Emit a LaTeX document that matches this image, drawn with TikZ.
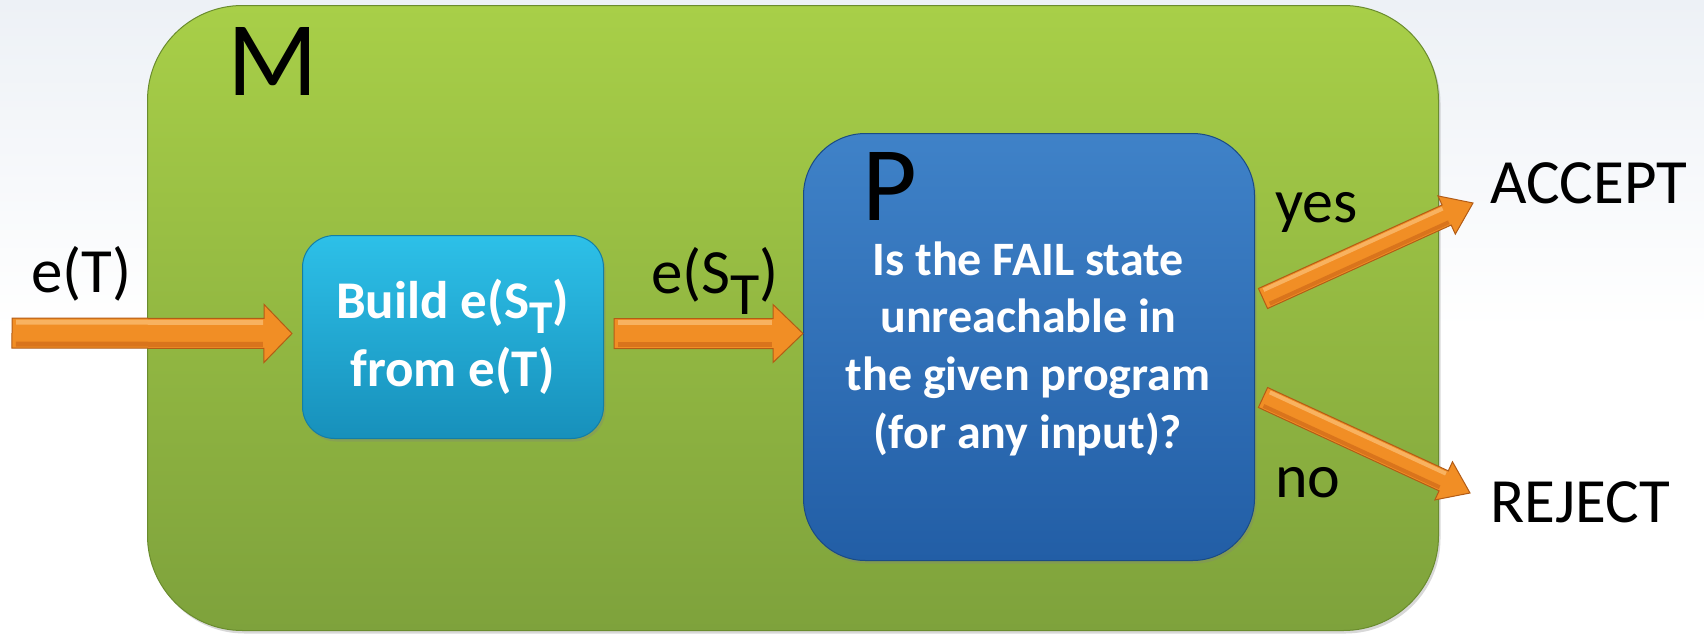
\documentclass[tikz,border=0pt]{standalone}
\usepackage{fontspec}
\setmainfont{Carlito}
\usetikzlibrary{calc,shadows}
\definecolor{bgtop}{HTML}{EDF1F6}
\definecolor{gTop}{HTML}{A8CF48}
\definecolor{gBot}{HTML}{7EA23C}
\definecolor{gEdge}{HTML}{6A8C2E}
\definecolor{cTop}{HTML}{2DC0E8}
\definecolor{cBot}{HTML}{1790BB}
\definecolor{cEdge}{HTML}{137EA6}
\definecolor{bTop}{HTML}{3F82C8}
\definecolor{bBot}{HTML}{225EA6}
\definecolor{bEdge}{HTML}{1A4B85}
\definecolor{aFill}{HTML}{F18E25}
\definecolor{aEdge}{HTML}{B35C16}
\definecolor{aLight}{HTML}{F8B260}
\definecolor{aDark}{HTML}{D9741C}
\tikzset{
  panel/.style={rounded corners=#1, line width=1pt, inner sep=0pt, anchor=north west,
    drop shadow={shadow xshift=2pt, shadow yshift=-3pt, opacity=0.3}},
  lbl/.style={inner sep=0pt, anchor=base west, font=\fontsize{63}{63}\selectfont},
  biglbl/.style={inner sep=0pt, anchor=base west, font=\fontsize{106}{106}\selectfont},
  boxtext/.style={inner sep=0pt, anchor=base, text=white},
  arrowbody/.style={fill=aFill, draw=aEdge, line width=1pt, line join=miter},
  arrowlight/.style={draw=aLight, line cap=butt},
  arrowdark/.style={draw=aDark, line cap=butt}
}
% #1 start, #2 end, #3 half shaft, #4 half head, #5 head length, #6 stripe offset, #7 stripe width
\newcommand\blockarrow[7]{%
  \coordinate (bah) at ($(#2)!#5!(#1)$);
  \coordinate (bas) at ($(#1)!4pt!(#2)$);
  \coordinate (bae) at ($(bah)!1pt!(#1)$);
  \filldraw[arrowbody] ($(#1)!#3!90:(#2)$) -- ($(bah)!#3!90:(#2)$) -- ($(bah)!#4!90:(#2)$)
    -- (#2) -- ($(bah)!#4!-90:(#2)$) -- ($(bah)!#3!-90:(#2)$) -- ($(#1)!#3!-90:(#2)$) -- cycle;
  \draw[arrowlight, line width=#7] ($(bas)!#6!90:(#2)$) -- ($(bae)!#6!90:(#2)$);
  \draw[arrowdark, line width=#7] ($(bas)!#6!-90:(#2)$) -- ($(bae)!#6!-90:(#2)$);
}
\begin{document}
\begin{tikzpicture}[x=1pt,y=-1pt]
\useasboundingbox (0,0) rectangle (1704,635);
\shade[top color=bgtop, bottom color=white] (0,0) rectangle (1704,330);
\fill[white] (0,330) rectangle (1704,635);

% outer machine M
\node[panel=95pt, top color=gTop, bottom color=gBot, draw=gEdge,
      minimum width=1291pt, minimum height=625pt] (Mbox) at (147,5) {};
\node[biglbl] (Mlabel) at (227,95) {M};

% build box
\node[panel=32pt, top color=cTop, bottom color=cBot, draw=cEdge,
      minimum width=301pt, minimum height=203pt] (build) at (302,235) {};
\node[boxtext, font=\bfseries\fontsize{53}{68}\selectfont] (buildtext) at (452.5,318)
  {\setlength{\tabcolsep}{0pt}\begin{tabular}[t]{c}Build e(S\raisebox{-15pt}{\fontsize{47}{47}\selectfont T})\\ from e(T)\end{tabular}};

% program box P
\node[panel=62pt, top color=bTop, bottom color=bBot, draw=bEdge,
      minimum width=451pt, minimum height=427pt] (P) at (803,133) {};
\node[biglbl] (Plabel) at (862,220) {P};
\node[boxtext, font=\bfseries\fontsize{48}{57.7}\selectfont] (ptext) at (1028,275)
  {\setlength{\tabcolsep}{0pt}\begin{tabular}[t]{c}Is the FAIL state\\ unreachable in\\ the given program\\ (for any input)?\end{tabular}};

% labels
\node[lbl] (eT) at (31,292) {e(T)};
\node[lbl] (eST) at (651,293) {e(S\raisebox{-21pt}{\fontsize{60}{60}\selectfont T})};
\node[lbl, font=\fontsize{62}{62}\selectfont] (yes) at (1275,222) {yes};
\node[lbl, font=\fontsize{62}{62}\selectfont] (no) at (1275,497) {no};
\node[lbl] (accept) at (1490,203) {ACCEPT};
\node[lbl] (reject) at (1490,522) {REJECT};

% connectors
\coordinate (inS) at (12,333);
\coordinate (inE) at ($(build.west)+(-10,-3.5)$);
\coordinate (midS) at ($(build.east)+(10,-3.5)$);
\coordinate (midE) at (P.west |- midS);
\coordinate (yesS) at ($(P.east)+(8,-48.5)$);
\coordinate (yesE) at ($(accept.base west)+(-17,0)$);
\coordinate (noS) at ($(P.east)+(8,50.5)$);
\coordinate (noE) at ($(reject.base west)+(-20,-29)$);

\blockarrow{inS}{inE}{15pt}{29pt}{28pt}{11pt}{5pt}
\blockarrow{midS}{midE}{15pt}{29pt}{30pt}{11pt}{5pt}
\blockarrow{yesS}{yesE}{11pt}{21pt}{29pt}{7.5pt}{4pt}
\blockarrow{noS}{noE}{11pt}{21pt}{29pt}{7.5pt}{4pt}
\end{tikzpicture}
\end{document}
